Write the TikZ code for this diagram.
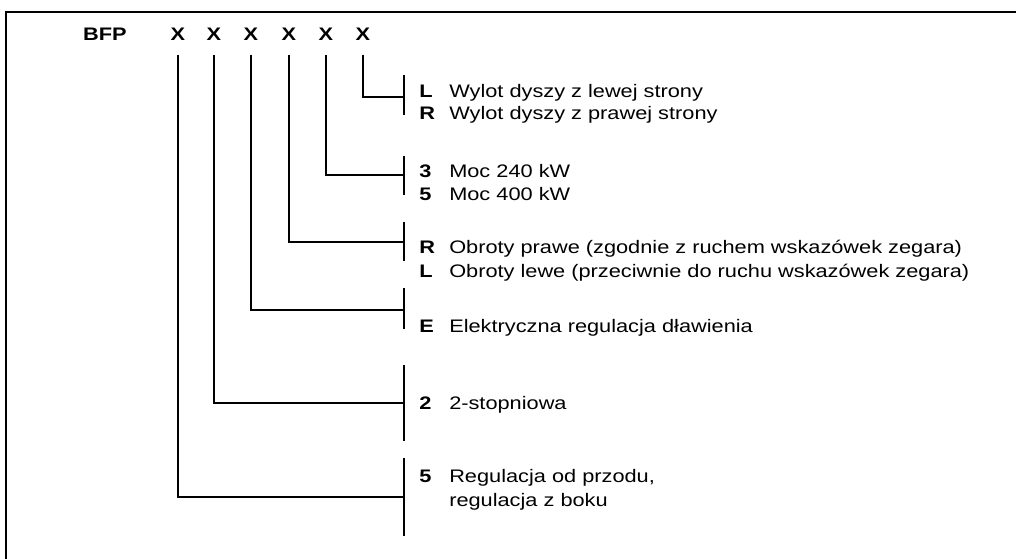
\documentclass[tikz,border=0pt]{standalone}
\usepackage{fontspec}
\setmainfont{Liberation Sans}[FakeStretch=1.2]
\begin{document}
\begin{tikzpicture}[x=0.75pt,y=-0.75pt,
  hdr/.style={font=\fontsize{13.6pt}{16pt}\selectfont\bfseries,inner sep=0pt,anchor=base},
  key/.style={font=\fontsize{13.6pt}{16pt}\selectfont\bfseries,inner sep=0pt,anchor=base west},
  desc/.style={font=\fontsize{13.6pt}{16pt}\selectfont,inner sep=0pt,anchor=base west},
  conn/.style={line width=1pt,shorten <=10pt},
  bar/.style={line width=1pt},
  frame/.style={line width=1.6pt}]
\useasboundingbox (0,0) rectangle (1016,559);
\draw[frame] (6,559) -- (6,12) -- (1016,12);
% header
\node[hdr] (bfp) at (105,41) {BFP};
\node[hdr] (x1) at (178,41) {X};
\node[hdr] (x2) at (214,41) {X};
\node[hdr] (x3) at (251,41) {X};
\node[hdr] (x4) at (289,41) {X};
\node[hdr] (x5) at (326,41) {X};
\node[hdr] (x6) at (363,41) {X};
% bars
\coordinate (b1t) at (404,75);  \coordinate (b1) at (404,97);  \coordinate (b1b) at (404,115);
\coordinate (b2t) at (404,156); \coordinate (b2) at (404,175); \coordinate (b2b) at (404,195);
\coordinate (b3t) at (404,222); \coordinate (b3) at (404,242); \coordinate (b3b) at (404,261);
\coordinate (b4t) at (404,288); \coordinate (b4) at (404,310); \coordinate (b4b) at (404,329);
\coordinate (b5t) at (404,365); \coordinate (b5) at (404,403); \coordinate (b5b) at (404,441);
\coordinate (b6t) at (404,458); \coordinate (b6) at (404,497); \coordinate (b6b) at (404,536);
\foreach \i in {1,...,6}{\draw[bar] (b\i t) -- (b\i b);}
\draw[conn] (x6.south) |- (b1);
\draw[conn] (x5.south) |- (b2);
\draw[conn] (x4.south) |- (b3);
\draw[conn] (x3.south) |- (b4);
\draw[conn] (x2.south) |- (b5);
\draw[conn] (x1.south) |- (b6);
% texts
\node[key]  (k1a) at (419,98)  {L};
\node[desc] (d1a) at (449,98)  {Wylot dyszy z lewej strony};
\node[key]  (k1b) at (419,120) {R};
\node[desc] (d1b) at (449,120) {Wylot dyszy z prawej strony};
\node[key]  (k2a) at (419,178) {3};
\node[desc] (d2a) at (449,178) {Moc 240 kW};
\node[key]  (k2b) at (419,201) {5};
\node[desc] (d2b) at (449,201) {Moc 400 kW};
\node[key]  (k3a) at (419,254) {R};
\node[desc] (d3a) at (449,254) {Obroty prawe (zgodnie z ruchem wskazówek zegara)};
\node[key]  (k3b) at (419,277) {L};
\node[desc] (d3b) at (449,277) {Obroty lewe (przeciwnie do ruchu wskazówek zegara)};
\node[key]  (k4)  at (419,332) {E};
\node[desc] (d4)  at (449,332) {Elektryczna regulacja dławienia};
\node[key]  (k5)  at (419,409) {2};
\node[desc] (d5)  at (449,409) {2-stopniowa};
\node[key]  (k6)  at (419,482) {5};
\node[desc] (d6a) at (449,482) {Regulacja od przodu,};
\node[desc] (d6b) at (449,506) {regulacja z boku};
\end{tikzpicture}
\end{document}
